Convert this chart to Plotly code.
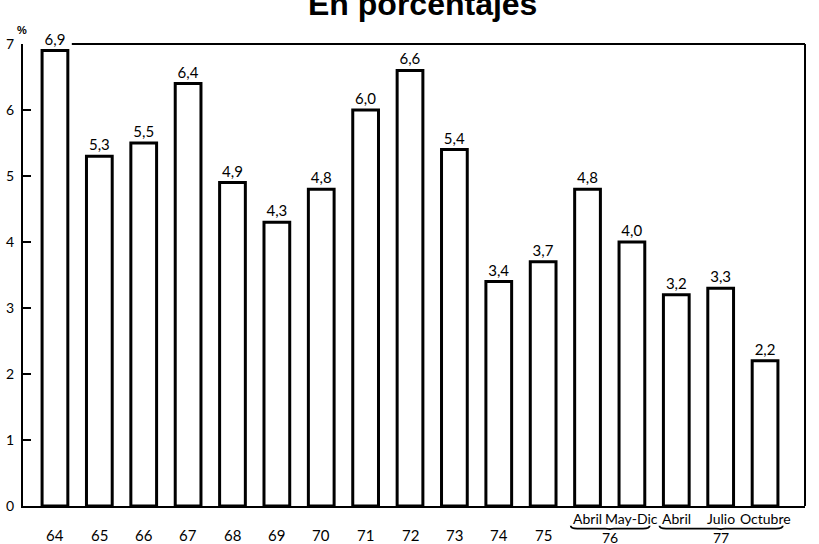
import plotly.graph_objects as go

# Data
years = ["64", "65", "66", "67", "68", "69", "70", "71", "72", "73", "74", "75",
         "76", "76", "77", "77", "77"]
months = ["", "", "", "", "", "", "", "", "", "", "", "",
          "Abril", "May-Dic", "Abril", "Julio", "Octubre"]
values = [6.9, 5.3, 5.5, 6.4, 4.9, 4.3, 4.8, 6.0, 6.6, 5.4, 3.4, 3.7,
          4.8, 4.0, 3.2, 3.3, 2.2]
value_labels = [f"{v:.1f}".replace(".", ",") for v in values]
yticks = [0, 1, 2, 3, 4, 5, 6, 7]

idx = list(range(len(values)))
FONT = "Lato"

fig = go.Figure()
fig.add_trace(go.Bar(
    x=idx, y=values, width=0.58,
    marker=dict(color="white", line=dict(color="black", width=3)),
    text=value_labels, textposition="outside",
    textfont=dict(family=FONT, size=15, color="black"),
    cliponaxis=False, hoverinfo="skip",
))

annotations = []
for i, (yr, mo) in enumerate(zip(years, months)):
    if mo == "":
        annotations.append(dict(x=i, y=0, xref="x", yref="paper", text=yr,
                                showarrow=False, yshift=-29, yanchor="middle",
                                font=dict(family=FONT, size=15, color="black")))
    else:
        annotations.append(dict(x=i, y=0, xref="x", yref="paper", text=mo,
                                showarrow=False, yshift=-12, yanchor="middle",
                                font=dict(family=FONT, size=14, color="black")))

shapes = []
groups = {}
for i, (yr, mo) in enumerate(zip(years, months)):
    if mo:
        groups.setdefault(yr, []).append(i)
for yr, members in groups.items():
    a, b = members[0] - 0.38, members[-1] + 0.4
    mid = (members[0] + members[-1]) / 2
    annotations.append(dict(x=mid, y=0, xref="x", yref="paper", text=yr,
                            showarrow=False, yshift=-31, yanchor="middle",
                            font=dict(family=FONT, size=14, color="black")))
    y_top = -0.043
    y_bot = -0.049
    y_tip = -0.052
    path = (f"M {a},{y_top} Q {a},{y_bot} {a+0.15},{y_bot} "
            f"L {mid-0.1},{y_bot} Q {mid},{y_bot} {mid},{y_tip} "
            f"Q {mid},{y_bot} {mid+0.1},{y_bot} "
            f"L {b-0.15},{y_bot} Q {b},{y_bot} {b},{y_top}")
    shapes.append(dict(type="path", xref="x", yref="paper", path=path,
                       line=dict(color="black", width=1.8)))

# Title (partially cut at the top, as in the reference)
annotations.append(dict(x=0.511, y=1.086, xref="paper", yref="paper",
                        text="<b>En porcentajes</b>", showarrow=False,
                        yanchor="middle",
                        font=dict(family="Liberation Sans", size=32, color="black")))
annotations.append(dict(x=-0.01, y=1.048, xref="paper", yref="paper",
                        text="<b>%</b>", showarrow=False,
                        font=dict(family="Liberation Sans", size=11, color="black")))

# Frame: top line (interrupted by first label) and right line
shapes.append(dict(type="line", xref="x", yref="paper", x0=0.38, x1=16.9,
                   y0=1, y1=1, line=dict(color="black", width=2)))
shapes.append(dict(type="line", xref="paper", yref="paper", x0=1, x1=1,
                   y0=0, y1=1, line=dict(color="black", width=2)))

fig.update_layout(
    width=819, height=544,
    margin=dict(l=23, r=14, t=44, b=38),
    paper_bgcolor="white", plot_bgcolor="white",
    showlegend=False,
    annotations=annotations, shapes=shapes,
    xaxis=dict(range=[-0.72, 16.9], showticklabels=False, ticks="",
               showgrid=False, zeroline=False, showline=True, automargin=False,
               linecolor="black", linewidth=2),
    yaxis=dict(range=[0, 7], tickvals=yticks, ticks="inside", ticklen=8,
               tickwidth=2, tickcolor="black", showgrid=False, zeroline=False,
               showline=True, linecolor="black", linewidth=2, automargin=False,
               ticklabelstandoff=4,
               tickfont=dict(family=FONT, size=14, color="black")),
)

fig.write_html("out.html", config={"displayModeBar": False},
               post_script="document.body.style.margin='0';document.body.style.overflow='hidden';")
